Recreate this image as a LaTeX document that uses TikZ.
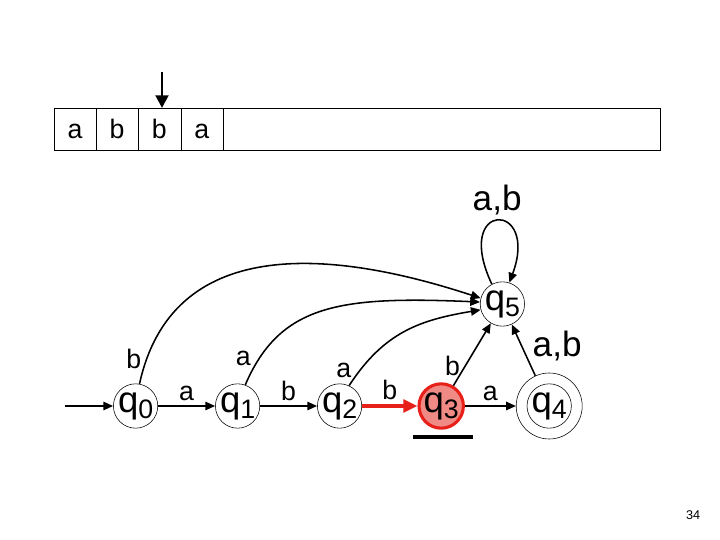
\documentclass[tikz,border=0pt]{standalone}
\usepackage{fontspec}
\setmainfont{Liberation Sans}
\usepackage{tikz}
\usetikzlibrary{arrows.meta, positioning, calc}
\definecolor{HeadRed}{HTML}{E8201A}
\definecolor{HeadFill}{HTML}{F08A84}
\newcommand{\qs}[1]{q\raisebox{-0.35ex}{\fontsize{19}{22}\selectfont #1}}

\begin{document}
\begin{tikzpicture}[
    state/.style={circle, draw, thin, minimum size=1.05cm, inner sep=0pt, font=\fontsize{26}{30}\selectfont},
    lbl/.style={font=\fontsize{19}{22}\selectfont},
    biglbl/.style={font=\fontsize{25}{30}\selectfont},
    trans/.style={->, >={Triangle[length=7pt,width=6pt]}, line width=1.1pt}]
  \useasboundingbox (0,0) rectangle (18,13.5);

  % tape
  \node (tape) [draw, thin, minimum width=15.15cm, minimum height=1.05cm, inner sep=0pt] at (8.925,10.275) {};
  \foreach \x in {2.4,3.45,4.52,5.57}
    \draw[thin] (\x,9.75) -- (\x,10.8);
  \node (c1) [lbl, anchor=base] at (1.875,10.03) {a};
  \node (c2) [lbl, anchor=base] at (2.925,10.03) {b};
  \node (c3) [lbl, anchor=base] at (3.985,10.03) {b};
  \node (c4) [lbl, anchor=base] at (5.045,10.03) {a};
  \coordinate (head) at (4.05,11.7);
  \draw[-{Triangle[length=9pt,width=9pt]}, line width=2pt] (head) -- (4.05,10.8);

  % states
  \node (q0) [state] at (3.39,3.35) {\qs{0}};
  \node (q1) [state] at (5.94,3.35) {\qs{1}};
  \node (q2) [state] at (8.49,3.35) {\qs{2}};
  \node (q3) [state, fill=HeadFill, draw=HeadRed, line width=2.2pt] at (11.03,3.35) {\qs{3}};
  \node (q4) [state, minimum size=1.65cm] at (13.73,3.35) {};
  \node (q4in) [circle, draw, thin, minimum size=0.9cm, inner sep=0pt, font=\fontsize{26}{30}\selectfont] at (q4) {\qs{4}};
  \node (q5) [state] at (12.56,5.9) {\qs{5}};
  \coordinate (start) at (1.625,3.35);
  \draw[line width=2.4pt] (10.33,2.575) -- (11.83,2.575);

  % transitions
  \draw[trans] (start) -- (q0);
  \draw[trans] (q0) -- node[lbl, above] {a} (q1);
  \draw[trans] (q1) -- node[lbl, above] {b} (q2);
  \draw[->, >={Triangle[length=10pt,width=9pt]}, line width=2.6pt, HeadRed] (q2) -- node[lbl, above, black] {b} (q3);
  \draw[trans] (q3) -- node[lbl, above] {a} (q4);
  \draw[trans] (q0.80) .. controls (4.3,7.6) and (8.2,7.3) .. (q5.165) node[lbl, pos=0.06, left] {b};
  \draw[trans] (q1.70) .. controls (7.0,5.9) and (8.5,6.1) .. (q5.175) node[lbl, pos=0.12, left=2pt] {a};
  \draw[trans] (q2.65) .. controls (9.6,5.2) and (10.5,5.5) .. (q5.195) node[lbl, pos=0.1, left=2pt] {a};
  \draw[trans] (q3) -- node[lbl, pos=0.32, left] {b} (q5);
  \draw[trans] (q4) -- node[biglbl, pos=0.58, right=4pt] {a,b} (q5);
  \draw[trans] (q5.118) .. controls (11.3,8.5) and (13.5,8.5) .. (q5.72) node[biglbl, pos=0.5, above] {a,b};

  \node (page) [font=\fontsize{9}{11}\selectfont] at (17.33,0.625) {34};
\end{tikzpicture}
\end{document}
